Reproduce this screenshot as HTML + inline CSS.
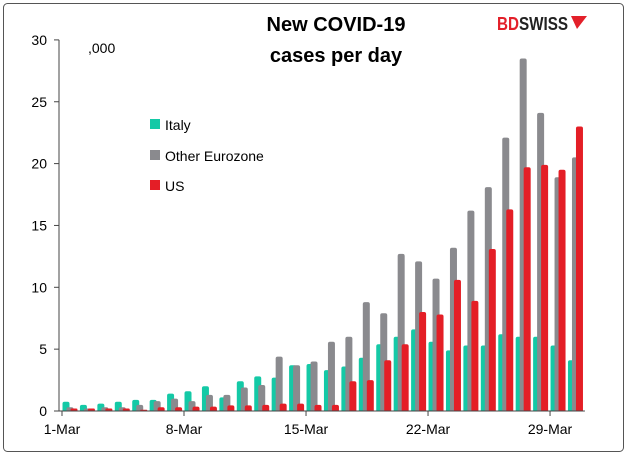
<!DOCTYPE html>
<html><head><meta charset="utf-8"><style>
body{margin:0;background:#fff;}
svg{display:block;font-family:"Liberation Sans",Arial,sans-serif;}
</style></head><body>
<svg width="631" height="456">
<rect x="3.5" y="3.5" width="620" height="448" rx="4" fill="#fff" stroke="#555" stroke-width="1"/>
<text x="336" y="31" text-anchor="middle" font-size="20" font-weight="bold" fill="#000">New COVID-19</text>
<text x="336" y="62" text-anchor="middle" font-size="20" font-weight="bold" fill="#000">cases per day</text>
<g>
<text x="497" y="30" font-size="18" font-weight="bold" textLength="71" lengthAdjust="spacingAndGlyphs"><tspan fill="#e3202a">BD</tspan><tspan fill="#222">SWISS</tspan></text>
<path d="M571 16 L587 16 L577 29 Z" fill="#e3202a"/>
</g>
<text x="88" y="53" font-size="14" fill="#000">,000</text>
<g id="yaxis"></g>
<g id="bars"></g>
<g id="xaxis"></g>
<g>
<rect x="150" y="119" width="10" height="10" fill="#14c9a6"/>
<text x="165" y="130" font-size="14">Italy</text>
<rect x="150" y="150" width="10" height="10" fill="#8a8a8e"/>
<text x="165" y="161" font-size="14">Other Eurozone</text>
<rect x="150" y="180" width="10" height="10" fill="#e41e26"/>
<text x="165" y="191" font-size="14">US</text>
</g>
</svg>
<script>
const days = Array.from({length:30},(_,i)=>(i+1)+'-Mar');
const italy = [0.75,0.5,0.6,0.75,0.9,0.9,1.4,1.6,2.0,1.1,2.4,2.8,2.7,3.7,3.8,3.3,3.6,4.3,5.4,6.0,6.6,5.6,4.9,5.3,5.3,6.2,6.0,6.0,5.3,4.1];
const other = [0.3,0.2,0.3,0.3,0.5,0.8,1.0,0.8,1.3,1.3,1.9,2.1,4.4,3.7,4.0,5.6,6.0,8.8,7.9,12.7,12.1,10.7,13.2,16.2,18.1,22.1,28.5,24.1,18.9,20.5];
const us = [0.2,0.2,0.2,0.2,0.1,0.3,0.3,0.35,0.35,0.45,0.45,0.5,0.6,0.6,0.5,0.5,2.4,2.5,4.1,5.4,8.0,7.8,10.6,8.9,13.1,16.3,19.7,19.9,19.5,23.0];
const yTicks = [0,5,10,15,20,25,30];
const xTickLabels = ['1-Mar','8-Mar','15-Mar','22-Mar','29-Mar'];
const xTickIdx = [0,7,14,21,28];

const NS='http://www.w3.org/2000/svg';
const x0=62, cw=17.43, y0=411, yScale=12.37;
const X=i=>x0+i*cw, Y=v=>y0-v*yScale;
function mk(tag,attrs,parent,text){const e=document.createElementNS(NS,tag);for(const k in attrs)e.setAttribute(k,attrs[k]);if(text!=null)e.textContent=text;parent.appendChild(e);return e;}
const ya=document.getElementById('yaxis'), xa=document.getElementById('xaxis'), bars=document.getElementById('bars');
let ax=mk('line',{x1:x0-3,x2:x0-3,y1:Y(30),y2:y0,stroke:'#444'},ya);


yTicks.forEach(v=>{
  const t=mk('line',{x1:x0-8,x2:x0-3,y1:Y(v),y2:Y(v),stroke:'#444'},ya);
  
  
  const l=mk('text',{x:47,y:Y(v)+5,'text-anchor':'end','font-size':14},ya,String(v));
  
  
});
function bar(i,v,off,col,name){
  const h=v*yScale, x=X(i)+off, w=7, r=Math.min(2,h/2);
  const p=mk('path',{d:`M${x} ${y0} L${x} ${y0-h+r} Q${x} ${y0-h} ${x+r} ${y0-h} L${x+w-r} ${y0-h} Q${x+w} ${y0-h} ${x+w} ${y0-h+r} L${x+w} ${y0} Z`,fill:col},bars);
  
  
}
days.forEach((d,i)=>{
  bar(i,italy[i],0.5,'#14c9a6','bar-italy');
  bar(i,other[i],4.5,'#8a8a8e','bar-other-eurozone');
  bar(i,us[i],8.5,'#e41e26','bar-us');
});
let xl=mk('line',{x1:x0-3,x2:X(30),y1:y0,y2:y0,stroke:'#444'},xa);


xTickIdx.forEach((idx,k)=>{
  const t=mk('line',{x1:X(idx),x2:X(idx),y1:y0,y2:y0+5,stroke:'#444'},xa);
  
  
  const l=mk('text',{x:X(idx),y:y0+23,'text-anchor':'middle','font-size':14},xa,xTickLabels[k]);
  
  
});
</script>
</body></html>
